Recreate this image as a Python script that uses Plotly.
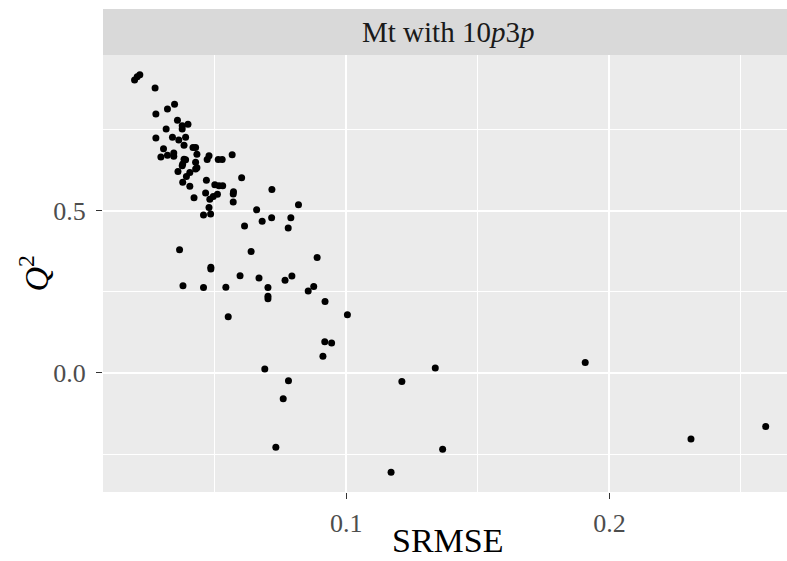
import plotly.graph_objects as go

srmse = [0.0195, 0.0205, 0.0215, 0.0273, 0.0347, 0.0320, 0.0276, 0.0358, 0.0398, 0.0376,
         0.0376, 0.0315, 0.0276, 0.0339, 0.0363, 0.0389, 0.0383, 0.0305, 0.0417, 0.0427,
         0.0295, 0.0320, 0.0344, 0.0344, 0.0432, 0.0383, 0.0389, 0.0378, 0.0376, 0.0478,
         0.0471, 0.0427, 0.0432, 0.0513, 0.0528, 0.0566, 0.0360, 0.0405, 0.0427, 0.0392,
         0.0378, 0.0468, 0.0602, 0.0405, 0.0500, 0.0516, 0.0530, 0.0717, 0.0421, 0.0465,
         0.0510, 0.0494, 0.0481, 0.0571, 0.0570, 0.0570, 0.0478, 0.0457, 0.0484, 0.0818,
         0.0659, 0.0613, 0.0680, 0.0716, 0.0789, 0.0779, 0.0366, 0.0638, 0.0889, 0.0485,
         0.0485, 0.0596, 0.0668, 0.0767, 0.0793, 0.0379, 0.0457, 0.0542, 0.0702, 0.0702,
         0.0702, 0.0855, 0.0876, 0.0919, 0.1004, 0.0551, 0.0918, 0.0944, 0.0911, 0.0690,
         0.1338, 0.1211, 0.0780, 0.0760, 0.0732, 0.1366, 0.1170, 0.1908, 0.2310, 0.2594]

q2 = [0.902, 0.912, 0.918, 0.877, 0.827, 0.813, 0.797, 0.778, 0.766, 0.761,
      0.751, 0.751, 0.723, 0.726, 0.717, 0.726, 0.701, 0.690, 0.694, 0.694,
      0.665, 0.670, 0.677, 0.667, 0.673, 0.658, 0.656, 0.643, 0.638, 0.669,
      0.657, 0.649, 0.632, 0.657, 0.657, 0.672, 0.620, 0.617, 0.628, 0.605,
      0.587, 0.593, 0.601, 0.575, 0.579, 0.576, 0.576, 0.565, 0.539, 0.554,
      0.550, 0.543, 0.535, 0.558, 0.551, 0.526, 0.509, 0.486, 0.489, 0.518,
      0.502, 0.452, 0.467, 0.478, 0.478, 0.446, 0.379, 0.374, 0.355, 0.325,
      0.320, 0.299, 0.292, 0.285, 0.298, 0.268, 0.263, 0.264, 0.263, 0.236,
      0.228, 0.252, 0.266, 0.220, 0.179, 0.173, 0.096, 0.092, 0.051, 0.012,
      0.015, -0.027, -0.024, -0.080, -0.229, -0.235, -0.306, 0.032, -0.204, -0.165]

strip_title = "Mt with 10<i>p</i>3<i>p</i>"
x_title = "SRMSE"
y_title = "<i>Q</i><sup>2</sup>"

FONT = "Liberation Serif"

fig = go.Figure()
fig.add_trace(go.Scatter(
    x=srmse, y=q2, mode="markers",
    marker=dict(color="black", size=7, line=dict(width=0)),
    hoverinfo="skip", showlegend=False,
))

axis_common = dict(
    showgrid=True, gridcolor="white", gridwidth=1.5,
    zeroline=False, showline=False,
    ticks="outside", ticklen=6, tickwidth=1.1, tickcolor="#333333",
    tickfont=dict(family=FONT, size=26, color="#4D4D4D"),
)

fig.update_layout(
    width=787, height=561,
    margin=dict(l=103, r=0, t=55, b=69),
    paper_bgcolor="white", plot_bgcolor="#EBEBEB",
    font=dict(family=FONT),
    xaxis=dict(
        range=[0.0075, 0.2675], tick0=0, dtick=0.1, tickformat=".1f",
        minor=dict(dtick=0.05, tick0=0, showgrid=True, gridcolor="white", gridwidth=0.75, ticks=""),
        ticklabelstandoff=2,
        **axis_common,
    ),
    yaxis=dict(
        range=[-0.367, 0.979], tick0=0, dtick=0.5, tickformat=".1f",
        minor=dict(dtick=0.25, tick0=0, showgrid=True, gridcolor="white", gridwidth=0.75, ticks=""),
        ticklabelstandoff=5,
        **axis_common,
    ),
    shapes=[dict(type="rect", xref="paper", yref="paper", x0=0, x1=1.02, y0=1, y1=1 + 46 / 437,
                 fillcolor="#D9D9D9", line=dict(width=0), layer="below")],
    annotations=[
        dict(text=strip_title, xref="paper", yref="paper", x=0.504, y=1 + 23 / 437,
             xanchor="center", yanchor="middle", showarrow=False,
             font=dict(family=FONT, size=29, color="#1A1A1A")),
        dict(text=x_title, xref="paper", yref="paper", x=0.504, y=-68 / 437,
             xanchor="center", yanchor="bottom", showarrow=False, borderpad=0,
             font=dict(family=FONT, size=34, color="black")),
        dict(text=y_title, xref="paper", yref="paper", x=(33 - 103) / 684, y=0.5,
             xanchor="center", yanchor="middle", showarrow=False, textangle=-90,
             font=dict(family=FONT, size=34, color="black")),
    ],
)

fig.write_html("out.html")
